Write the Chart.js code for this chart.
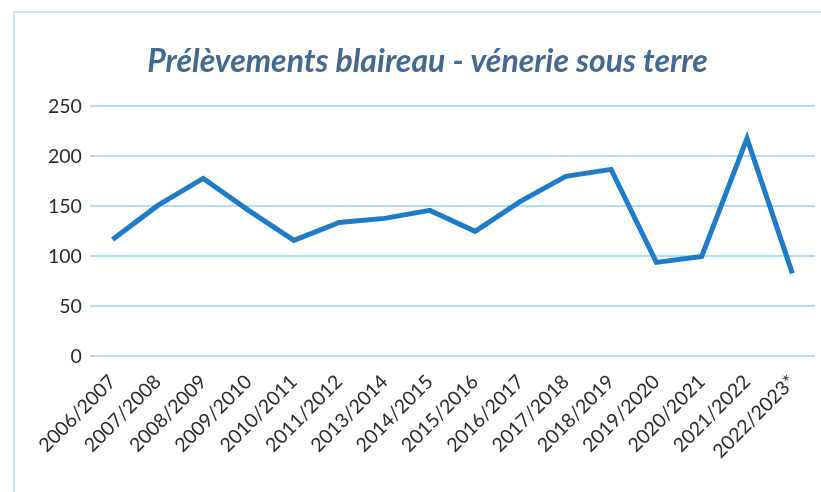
<!DOCTYPE html>
<html>
<head>
<meta charset="utf-8">
<script src="https://cdn.jsdelivr.net/npm/chart.js@4/dist/chart.umd.min.js"></script>
<style>
  html, body { margin: 0; padding: 0; background: #fff; }
  #wrap { position: relative; width: 821px; height: 492px; }
  #frame { position: absolute; left: 13px; top: 11px; width: 900px; height: 600px;
           border-left: 2px solid #cde9f5; border-top: 2px solid #cde9f5; }
  canvas { position: absolute; left: 0; top: 0; }
</style>
</head>
<body>
<div id="wrap">
  <div id="frame"></div>
  <canvas id="chart" width="821" height="492"></canvas>
</div>
<script>
// Saisons (axe X)
const seasons = [
    "2006/2007", "2007/2008", "2008/2009", "2009/2010", "2010/2011", "2011/2012",
    "2013/2014", "2014/2015", "2015/2016", "2016/2017", "2017/2018", "2018/2019",
    "2019/2020", "2020/2021", "2021/2022", "2022/2023*"
];

// Prélèvements
const catches = [117, 151, 178, 146, 116, 134, 138, 146, 125, 155, 180, 187, 94, 100, 218, 83];

const yTicks = [0, 50, 100, 150, 200, 250];

const ctx = document.getElementById("chart");

new Chart(ctx, {
    type: "line",
    data: {
        labels: seasons,
        datasets: [{
            label: "Prélèvements",
            data: catches,
            borderColor: "#1d7bc8",
            borderWidth: 5,
            pointRadius: 0,
            tension: 0,
            fill: false
        }]
    },
    options: {
        responsive: false,
        animation: false,
        layout: { padding: { left: 40, right: 6, top: 0, bottom: 23 } },
        plugins: {
            legend: { display: false },
            tooltip: { enabled: false },
            title: {
                display: true,
                text: "Prélèvements blaireau - vénerie sous terre",
                color: "#44698f",
                font: { family: "Lato", size: 32, style: "italic", weight: "bold" },
                padding: { top: 42, bottom: 26 }
            }
        },
        scales: {
            x: {
                offset: true,
                grid: { display: false },
                border: { display: false },
                ticks: {
                    color: "#2b2b2b",
                    font: { family: "Lato", size: 19.5 },
                    minRotation: 45,
                    maxRotation: 45,
                    autoSkip: false,
                    padding: 6
                }
            },
            y: {
                min: yTicks[0],
                max: yTicks[yTicks.length - 1],
                afterBuildTicks: axis => { axis.ticks = yTicks.map(v => ({ value: v })); },
                grid: { color: "#b3dcf0", lineWidth: 2, drawTicks: false },
                border: { display: false },
                ticks: {
                    color: "#2b2b2b",
                    font: { family: "Lato", size: 19.5 },
                    padding: 8
                }
            }
        }
    }
});
</script>
</body>
</html>
